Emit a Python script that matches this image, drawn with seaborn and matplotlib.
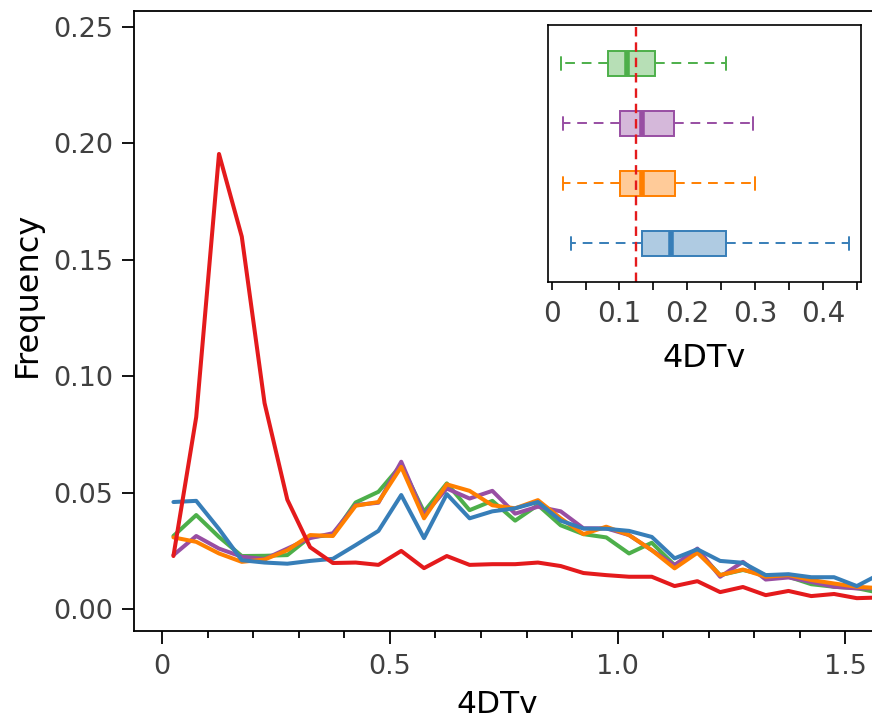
import matplotlib
matplotlib.use("Agg")
import matplotlib.pyplot as plt
from matplotlib.ticker import MultipleLocator
import numpy as np
import pandas as pd
import seaborn as sns

# ---------------- data ----------------
bin_centers = [0.025, 0.075, 0.125, 0.175, 0.225, 0.275, 0.325, 0.375, 0.425, 0.475,
               0.525, 0.575, 0.625, 0.675, 0.725, 0.775, 0.825, 0.875, 0.925, 0.975,
               1.025, 1.075, 1.125, 1.175, 1.225, 1.275, 1.325, 1.375, 1.425, 1.475,
               1.525, 1.575]

freq_red = [0.0228, 0.0825, 0.1955, 0.1600, 0.0885, 0.0470, 0.0266, 0.0198, 0.0200, 0.0190,
            0.0250, 0.0176, 0.0228, 0.0190, 0.0193, 0.0193, 0.0200, 0.0185, 0.0155, 0.0146,
            0.0139, 0.0139, 0.0099, 0.0120, 0.0073, 0.0095, 0.0060, 0.0078, 0.0056, 0.0065,
            0.0047, 0.0050]
freq_blue = [0.0460, 0.0465, 0.0344, 0.0210, 0.0200, 0.0195, 0.0207, 0.0216, 0.0275, 0.0336,
             0.0490, 0.0305, 0.0494, 0.0390, 0.0420, 0.0433, 0.0460, 0.0380, 0.0346, 0.0345,
             0.0336, 0.0310, 0.0218, 0.0257, 0.0207, 0.0199, 0.0146, 0.0150, 0.0137, 0.0137,
             0.0099, 0.0150]
freq_green = [0.0314, 0.0404, 0.0310, 0.0228, 0.0229, 0.0232, 0.0310, 0.0318, 0.0458, 0.0504,
              0.0619, 0.0418, 0.0540, 0.0425, 0.0465, 0.0380, 0.0447, 0.0360, 0.0322, 0.0308,
              0.0239, 0.0285, 0.0189, 0.0250, 0.0146, 0.0168, 0.0146, 0.0139, 0.0107, 0.0096,
              0.0090, 0.0070]
freq_purple = [0.0232, 0.0314, 0.0260, 0.0225, 0.0215, 0.0260, 0.0305, 0.0326, 0.0447, 0.0457,
               0.0633, 0.0404, 0.0518, 0.0475, 0.0508, 0.0410, 0.0440, 0.0420, 0.0347, 0.0347,
               0.0318, 0.0253, 0.0189, 0.0260, 0.0139, 0.0203, 0.0127, 0.0136, 0.0117, 0.0096,
               0.0089, 0.0090]
freq_orange = [0.0308, 0.0289, 0.0239, 0.0203, 0.0213, 0.0253, 0.0318, 0.0314, 0.0444, 0.0460,
               0.0611, 0.0390, 0.0536, 0.0508, 0.0446, 0.0433, 0.0468, 0.0390, 0.0322, 0.0354,
               0.0318, 0.0253, 0.0175, 0.0242, 0.0146, 0.0170, 0.0139, 0.0146, 0.0125, 0.0110,
               0.0096, 0.0090]

series_names = ["green", "purple", "orange", "blue", "red"]
series_colors = ["#4daf4a", "#984ea3", "#ff7f00", "#377eb8", "#e41a1c"]

# inset box statistics (top to bottom)
box_names = ["green", "purple", "orange", "blue"]
box_colors = ["#4daf4a", "#984ea3", "#ff7f00", "#377eb8"]
box_whislo = [0.0132, 0.0172, 0.0172, 0.0280]
box_q1 = [0.0836, 0.1008, 0.1008, 0.1328]
box_med = [0.1116, 0.1328, 0.1338, 0.1760]
box_q3 = [0.1524, 0.1810, 0.1820, 0.2567]
box_whishi = [0.2567, 0.2975, 0.3000, 0.4390]
red_median = 0.125

# ---------------- figure ----------------
sns.set_style("white")
plt.rcParams["font.family"] = ["DejaVu Sans"]

fig = plt.figure(figsize=(8.72, 7.25), dpi=100)
ax = fig.add_axes([0.1537, 0.1303, 0.8475, 0.8545])

series_values = {"green": freq_green, "purple": freq_purple, "orange": freq_orange,
                 "blue": freq_blue, "red": freq_red}
rows = []
for name in series_names:
    for x, y in zip(bin_centers, series_values[name]):
        rows.append({"4DTv": x, "Frequency": y, "series": name})
df = pd.DataFrame(rows)

sns.lineplot(data=df, x="4DTv", y="Frequency", hue="series", hue_order=series_names,
             palette=dict(zip(series_names, series_colors)), linewidth=2.9,
             legend=False, ax=ax)

ax.set_xlim(-0.0615, 1.5606)
ax.set_ylim(-0.0092, 0.2569)
ax.set_yticks([0.0, 0.05, 0.10, 0.15, 0.20, 0.25])
ax.set_yticklabels(["0.00", "0.05", "0.10", "0.15", "0.20", "0.25"])
ax.set_xticks([0, 0.5, 1.0, 1.5])
ax.set_xticklabels(["0", "0.5", "1.0", "1.5"])
ax.xaxis.set_minor_locator(MultipleLocator(0.1))
ax.tick_params(axis="both", which="major", direction="out", length=9, width=1.3,
               labelsize=19.5, labelcolor="#404040", color="black", bottom=True, left=True)
ax.tick_params(axis="x", which="major", pad=8)
ax.tick_params(axis="y", which="major", pad=6)
ax.tick_params(axis="x", which="minor", direction="out", length=5, width=1.3,
               color="black", bottom=True)
for sp in ax.spines.values():
    sp.set_color("black")
    sp.set_linewidth(1.3)
ax.set_xlabel("4DTv", fontsize=22.5, color="black")
ax.set_ylabel("Frequency", fontsize=23, color="black")
ax.xaxis.set_label_coords(0.491, -0.096)
ax.yaxis.set_label_coords(-0.124, 0.543)

# ---------------- inset ----------------
ins = fig.add_axes([0.6288, 0.6115, 0.3583, 0.354])
for i, name in enumerate(box_names):
    c = box_colors[i]
    stats = [{"whislo": box_whislo[i], "q1": box_q1[i], "med": box_med[i],
              "q3": box_q3[i], "whishi": box_whishi[i], "fliers": [], "label": name}]
    ins.bxp(stats, positions=[i], widths=0.42, capwidths=0.22, vert=False,
            patch_artist=True, showfliers=False,
            boxprops=dict(facecolor=matplotlib.colors.to_rgba(c, 0.4), edgecolor=c, linewidth=1.4),
            medianprops=dict(color=c, linewidth=4, solid_capstyle="butt"),
            whiskerprops=dict(color=c, linestyle=(0, (5, 3.5)), linewidth=1.4),
            capprops=dict(color=c, linewidth=1.4))
ins.axvline(red_median, color="#e41a1c", linestyle=(0, (4, 2.5)), linewidth=1.7)
ins.set_xlim(-0.005, 0.456)
ins.set_ylim(3.64, -0.64)
ins.set_yticks([])
ins.set_xticks([0, 0.1, 0.2, 0.3, 0.4])
ins.set_xticklabels(["0", "0.1", "0.2", "0.3", "0.4"])
ins.xaxis.set_minor_locator(MultipleLocator(0.05))
ins.tick_params(axis="x", which="both", direction="out", length=6, width=1.2,
                labelsize=20, labelcolor="#404040", color="black", bottom=True, pad=7)
for sp in ins.spines.values():
    sp.set_color("black")
    sp.set_linewidth(1.2)
ins.set_xlabel("4DTv", fontsize=23, color="black", labelpad=11)

fig.savefig("out.png", dpi=100)
